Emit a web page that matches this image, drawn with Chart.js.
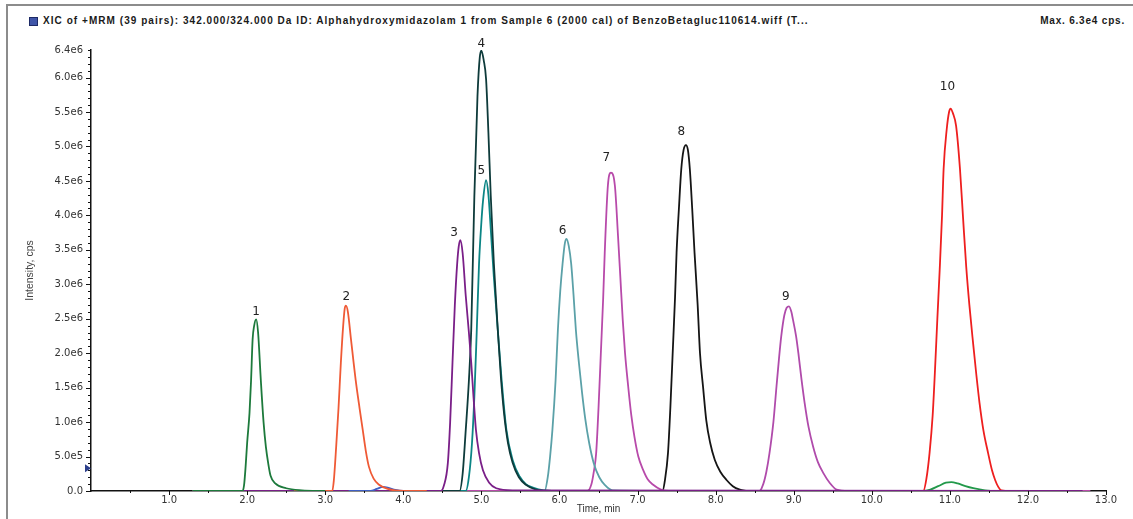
<!DOCTYPE html>
<html>
<head>
<meta charset="utf-8">
<script src="https://cdn.jsdelivr.net/npm/chart.js@4.4.1/dist/chart.umd.min.js"></script>
<style>
  html, body { margin: 0; padding: 0; background: #fff; }
  body { width: 1133px; height: 519px; position: relative; overflow: hidden; font-family: "Liberation Sans", Arial, sans-serif; }
  #frame { position: absolute; left: 6px; top: 4px; right: 0; bottom: 0; border-top: 2px solid #8c8c8c; border-left: 2px solid #8c8c8c; }
  #legendBox { position: absolute; left: 29px; top: 17px; width: 7px; height: 7px; background: #3f55a8; border: 1px solid #1d2a66; }
  #title { position: absolute; left: 43px; top: 15px; font-size: 10px; font-weight: bold; letter-spacing: 1.05px; color: #1a1a1a; white-space: nowrap; }
  #maxText { position: absolute; right: 8px; top: 15px; font-size: 10px; font-weight: bold; letter-spacing: 0.8px; color: #1a1a1a; }
  #wrap { position: absolute; left: 0; top: 0; width: 1133px; height: 519px; }
</style>
</head>
<body>
<div id="frame"></div>
<div id="legendBox"></div>
<div id="title">XIC of +MRM (39 pairs): 342.000/324.000 Da ID: Alphahydroxymidazolam 1 from Sample 6 (2000 cal) of BenzoBetagluc110614.wiff (T...</div>
<div id="maxText">Max. 6.3e4 cps.</div>
<div id="wrap"><canvas id="chart"></canvas></div>
<script>
// intensities in units of 1e6 cps, time in min
const peak1 = [[1.3,0],[1.94,0],[1.96,0.08],[1.98,0.35],[2.0,0.7],[2.03,1.13],[2.05,1.6],[2.07,2.2],[2.09,2.4],[2.115,2.49],[2.14,2.3],[2.175,1.61],[2.21,1.0],[2.24,0.64],[2.27,0.4],[2.30,0.22],[2.36,0.11],[2.5,0.04],[2.7,0.01],[3.0,0]];
const peak2 = [[2.6,0],[3.09,0],[3.11,0.15],[3.14,0.64],[3.17,1.2],[3.2,1.86],[3.23,2.4],[3.25,2.65],[3.265,2.69],[3.29,2.6],[3.33,2.2],[3.39,1.61],[3.44,1.2],[3.48,0.89],[3.52,0.58],[3.56,0.35],[3.62,0.18],[3.69,0.09],[3.8,0.03],[4.0,0],[4.3,0]];
const peakBlue = [[3.3,0],[3.58,0],[3.66,0.03],[3.74,0.06],[3.8,0.05],[3.9,0.015],[4.0,0],[4.2,0]];
const peak3 = [[1.5,0],[4.48,0],[4.52,0.08],[4.57,0.4],[4.60,1.0],[4.63,1.86],[4.66,2.7],[4.69,3.3],[4.71,3.55],[4.73,3.64],[4.76,3.45],[4.80,2.83],[4.84,2.3],[4.87,1.86],[4.90,1.35],[4.93,0.89],[4.97,0.55],[5.02,0.3],[5.1,0.12],[5.19,0.04],[5.4,0.01],[12.7,0]];
const peak4 = [[4.3,0],[4.72,0],[4.76,0.25],[4.80,0.89],[4.84,1.6],[4.87,2.34],[4.91,4.28],[4.95,5.73],[4.98,6.3],[5.00,6.39],[5.03,6.25],[5.06,5.98],[5.09,5.2],[5.12,4.28],[5.16,3.3],[5.21,2.34],[5.25,1.65],[5.29,1.13],[5.34,0.7],[5.40,0.41],[5.48,0.2],[5.57,0.09],[5.7,0.02],[5.9,0]];
const peak5 = [[4.5,0],[4.80,0],[4.84,0.2],[4.88,0.7],[4.91,1.37],[4.94,2.3],[4.97,3.3],[5.0,3.9],[5.02,4.2],[5.06,4.51],[5.09,4.3],[5.12,3.8],[5.16,3.1],[5.21,2.34],[5.26,1.6],[5.32,0.89],[5.40,0.45],[5.49,0.21],[5.57,0.1],[5.66,0.05],[5.8,0.01],[6.0,0]];
const peak6 = [[5.5,0],[5.81,0],[5.85,0.2],[5.88,0.5],[5.91,0.89],[5.95,1.6],[5.98,2.34],[6.01,2.9],[6.04,3.3],[6.07,3.6],[6.09,3.66],[6.12,3.55],[6.15,3.3],[6.18,2.85],[6.21,2.34],[6.25,1.85],[6.29,1.42],[6.33,1.05],[6.38,0.7],[6.44,0.4],[6.51,0.2],[6.58,0.09],[6.68,0.01],[8.0,0]];
const peak7 = [[1.3,0],[6.36,0],[6.41,0.1],[6.44,0.28],[6.47,0.55],[6.50,1.2],[6.53,2.0],[6.56,2.8],[6.58,3.46],[6.62,4.43],[6.66,4.62],[6.71,4.43],[6.75,3.7],[6.78,3.1],[6.81,2.49],[6.84,2.0],[6.88,1.52],[6.92,1.1],[6.96,0.79],[7.01,0.5],[7.07,0.31],[7.13,0.17],[7.20,0.09],[7.30,0.02],[7.4,0],[12.8,0]];
const peak8 = [[7.0,0],[7.32,0],[7.35,0.15],[7.39,0.55],[7.42,1.2],[7.45,2.0],[7.48,2.8],[7.50,3.46],[7.53,4.1],[7.56,4.67],[7.59,4.95],[7.62,5.02],[7.645,4.95],[7.67,4.67],[7.70,4.1],[7.73,3.46],[7.77,2.7],[7.80,2.0],[7.84,1.5],[7.88,1.03],[7.93,0.7],[7.99,0.45],[8.06,0.28],[8.14,0.16],[8.22,0.07],[8.31,0.02],[8.4,0]];
const peak9 = [[8.3,0],[8.56,0],[8.61,0.1],[8.65,0.28],[8.69,0.55],[8.74,1.0],[8.78,1.52],[8.81,1.9],[8.84,2.24],[8.88,2.55],[8.91,2.66],[8.94,2.68],[8.97,2.6],[8.99,2.49],[9.03,2.25],[9.06,2.0],[9.10,1.62],[9.14,1.28],[9.19,0.93],[9.25,0.64],[9.31,0.42],[9.38,0.26],[9.46,0.12],[9.55,0.02],[9.7,0],[12.5,0]];
const peak10 = [[10.3,0],[10.66,0],[10.70,0.18],[10.74,0.55],[10.78,1.1],[10.81,1.76],[10.84,2.5],[10.87,3.21],[10.90,4.0],[10.92,4.67],[10.96,5.25],[10.99,5.5],[11.01,5.55],[11.04,5.48],[11.08,5.3],[11.13,4.67],[11.17,3.95],[11.21,3.25],[11.25,2.7],[11.30,2.12],[11.34,1.68],[11.38,1.28],[11.43,0.88],[11.49,0.55],[11.54,0.3],[11.58,0.16],[11.62,0.06],[11.66,0.01],[11.8,0]];
const peakGreenSmall = [[10.3,0],[10.66,0],[10.75,0.02],[10.85,0.07],[10.95,0.12],[11.02,0.13],[11.1,0.11],[11.2,0.07],[11.3,0.04],[11.45,0.01],[11.6,0],[12.6,0]];

const seriesColors = ['#1d7a3c', '#ef5a36', '#3f5fc4', '#7a1f88', '#0e3b3b', '#0b8585', '#5ba1a8', '#b84aaa', '#151515', '#b04bab', '#ee1f1f', '#22994a'];
const seriesData = [peak1, peak2, peakBlue, peak3, peak4, peak5, peak6, peak7, peak8, peak9, peak10, peakGreenSmall];

// peak number labels: [text, time, intensity 1e6]
const peakLabels = [['1',2.115,2.60],['2',3.27,2.82],['3',4.65,3.74],['4',5.00,6.49],['5',5.00,4.65],['6',6.04,3.78],['7',6.60,4.84],['8',7.56,5.21],['9',8.90,2.82],['10',10.97,5.86]];

const yTickValues = [0, 5e5, 1e6, 1.5e6, 2e6, 2.5e6, 3e6, 3.5e6, 4e6, 4.5e6, 5e6, 5.5e6, 6e6, 6.4e6];
const yTickLabels = ['0.0', '5.0e5', '1.0e6', '1.5e6', '2.0e6', '2.5e6', '3.0e6', '3.5e6', '4.0e6', '4.5e6', '5.0e6', '5.5e6', '6.0e6', '6.4e6'];
const xTickValues = [1,2,3,4,5,6,7,8,9,10,11,12,13];
const xTickLabels = ['1.0','2.0','3.0','4.0','5.0','6.0','7.0','8.0','9.0','10.0','11.0','12.0','13.0'];
const markerLevel = 3.3e5;

const axisTicks = {
  id: 'axisTicks',
  afterDraw(chart) {
    const ctx = chart.ctx, xs = chart.scales.x, ys = chart.scales.y;
    const area = chart.chartArea;
    ctx.save();
    ctx.strokeStyle = '#111';
    ctx.lineWidth = 1;
    // y minor every 1e5, major every 5e5
    for (let v = 0; v <= 6.4e6 + 1; v += 1e5) {
      const y = Math.round(ys.getPixelForValue(v)) + 0.5;
      const major = Math.round(v / 1e5) % 5 === 0;
      ctx.beginPath();
      ctx.moveTo(area.left - (major ? 5 : 3), y);
      ctx.lineTo(area.left, y);
      ctx.stroke();
    }
    // x ticks every 0.5
    for (let t = 0.5; t <= 13.001; t += 0.5) {
      const x = Math.round(xs.getPixelForValue(t)) + 0.5;
      const major = Math.abs(t - Math.round(t)) < 1e-6;
      ctx.beginPath();
      ctx.moveTo(x, area.bottom);
      ctx.lineTo(x, area.bottom + (major ? 4 : 2));
      ctx.stroke();
    }
    // y marker triangle
    const my = ys.getPixelForValue(markerLevel);
    ctx.fillStyle = '#2c3f8c';
    ctx.beginPath();
    ctx.moveTo(area.left - 6, my - 4);
    ctx.lineTo(area.left, my);
    ctx.lineTo(area.left - 6, my + 4);
    ctx.closePath();
    ctx.fill();
    // peak labels
    ctx.fillStyle = '#222';
    ctx.font = '12px "DejaVu Sans", sans-serif';
    ctx.textAlign = 'center';
    ctx.textBaseline = 'middle';
    peakLabels.forEach(p => {
      ctx.fillText(p[0], xs.getPixelForValue(p[1]), ys.getPixelForValue(p[2] * 1e6));
    });
    ctx.restore();
  }
};

new Chart(document.getElementById('chart'), {
  type: 'line',
  data: {
    datasets: seriesData.map((s, i) => ({
      data: s.map(p => ({ x: p[0], y: p[1] * 1e6 })),
      borderColor: seriesColors[i],
      borderWidth: 1.8,
      pointRadius: 0,
      tension: 0.4,
      cubicInterpolationMode: 'monotone',
      fill: false
    }))
  },
  options: {
    responsive: true,
    maintainAspectRatio: false,
    animation: false,
    layout: { padding: { top: 50, right: 27, bottom: 0, left: 0 } },
    plugins: { legend: { display: false }, tooltip: { enabled: false } },
    scales: {
      x: {
        type: 'linear',
        min: 0,
        max: 13,
        afterFit: s => { s.height = 28; },
        afterBuildTicks: s => { s.ticks = xTickValues.map(v => ({ value: v })); },
        ticks: {
          autoSkip: false,
          maxRotation: 0,
          padding: 3,
          color: '#333',
          font: { family: '"DejaVu Sans", sans-serif', size: 10 },
          callback: (v, i) => xTickLabels[i]
        },
        grid: { display: false, drawTicks: false },
        border: { display: true, color: '#111', width: 1.5 },
        title: {
          display: true,
          text: 'Time, min',
          color: '#333',
          padding: { top: 0, bottom: 4 },
          font: { family: '"Liberation Sans", Arial', size: 10 }
        }
      },
      y: {
        type: 'linear',
        min: 0,
        max: 6.4e6,
        afterFit: s => { s.width = 91; },
        afterBuildTicks: s => { s.ticks = yTickValues.map(v => ({ value: v })); },
        ticks: {
          autoSkip: false,
          padding: 8,
          color: '#333',
          font: { family: '"DejaVu Sans", sans-serif', size: 10 },
          callback: (v, i) => yTickLabels[i]
        },
        grid: { display: false, drawTicks: false },
        border: { display: true, color: '#111', width: 1.5 },
        title: {
          display: true,
          text: 'Intensity, cps',
          color: '#444',
          padding: { top: 24, bottom: 0 },
          font: { family: '"Liberation Sans Narrow", "Liberation Sans", Arial', size: 10.5 }
        }
      }
    }
  },
  plugins: [axisTicks]
});
</script>
</body>
</html>
